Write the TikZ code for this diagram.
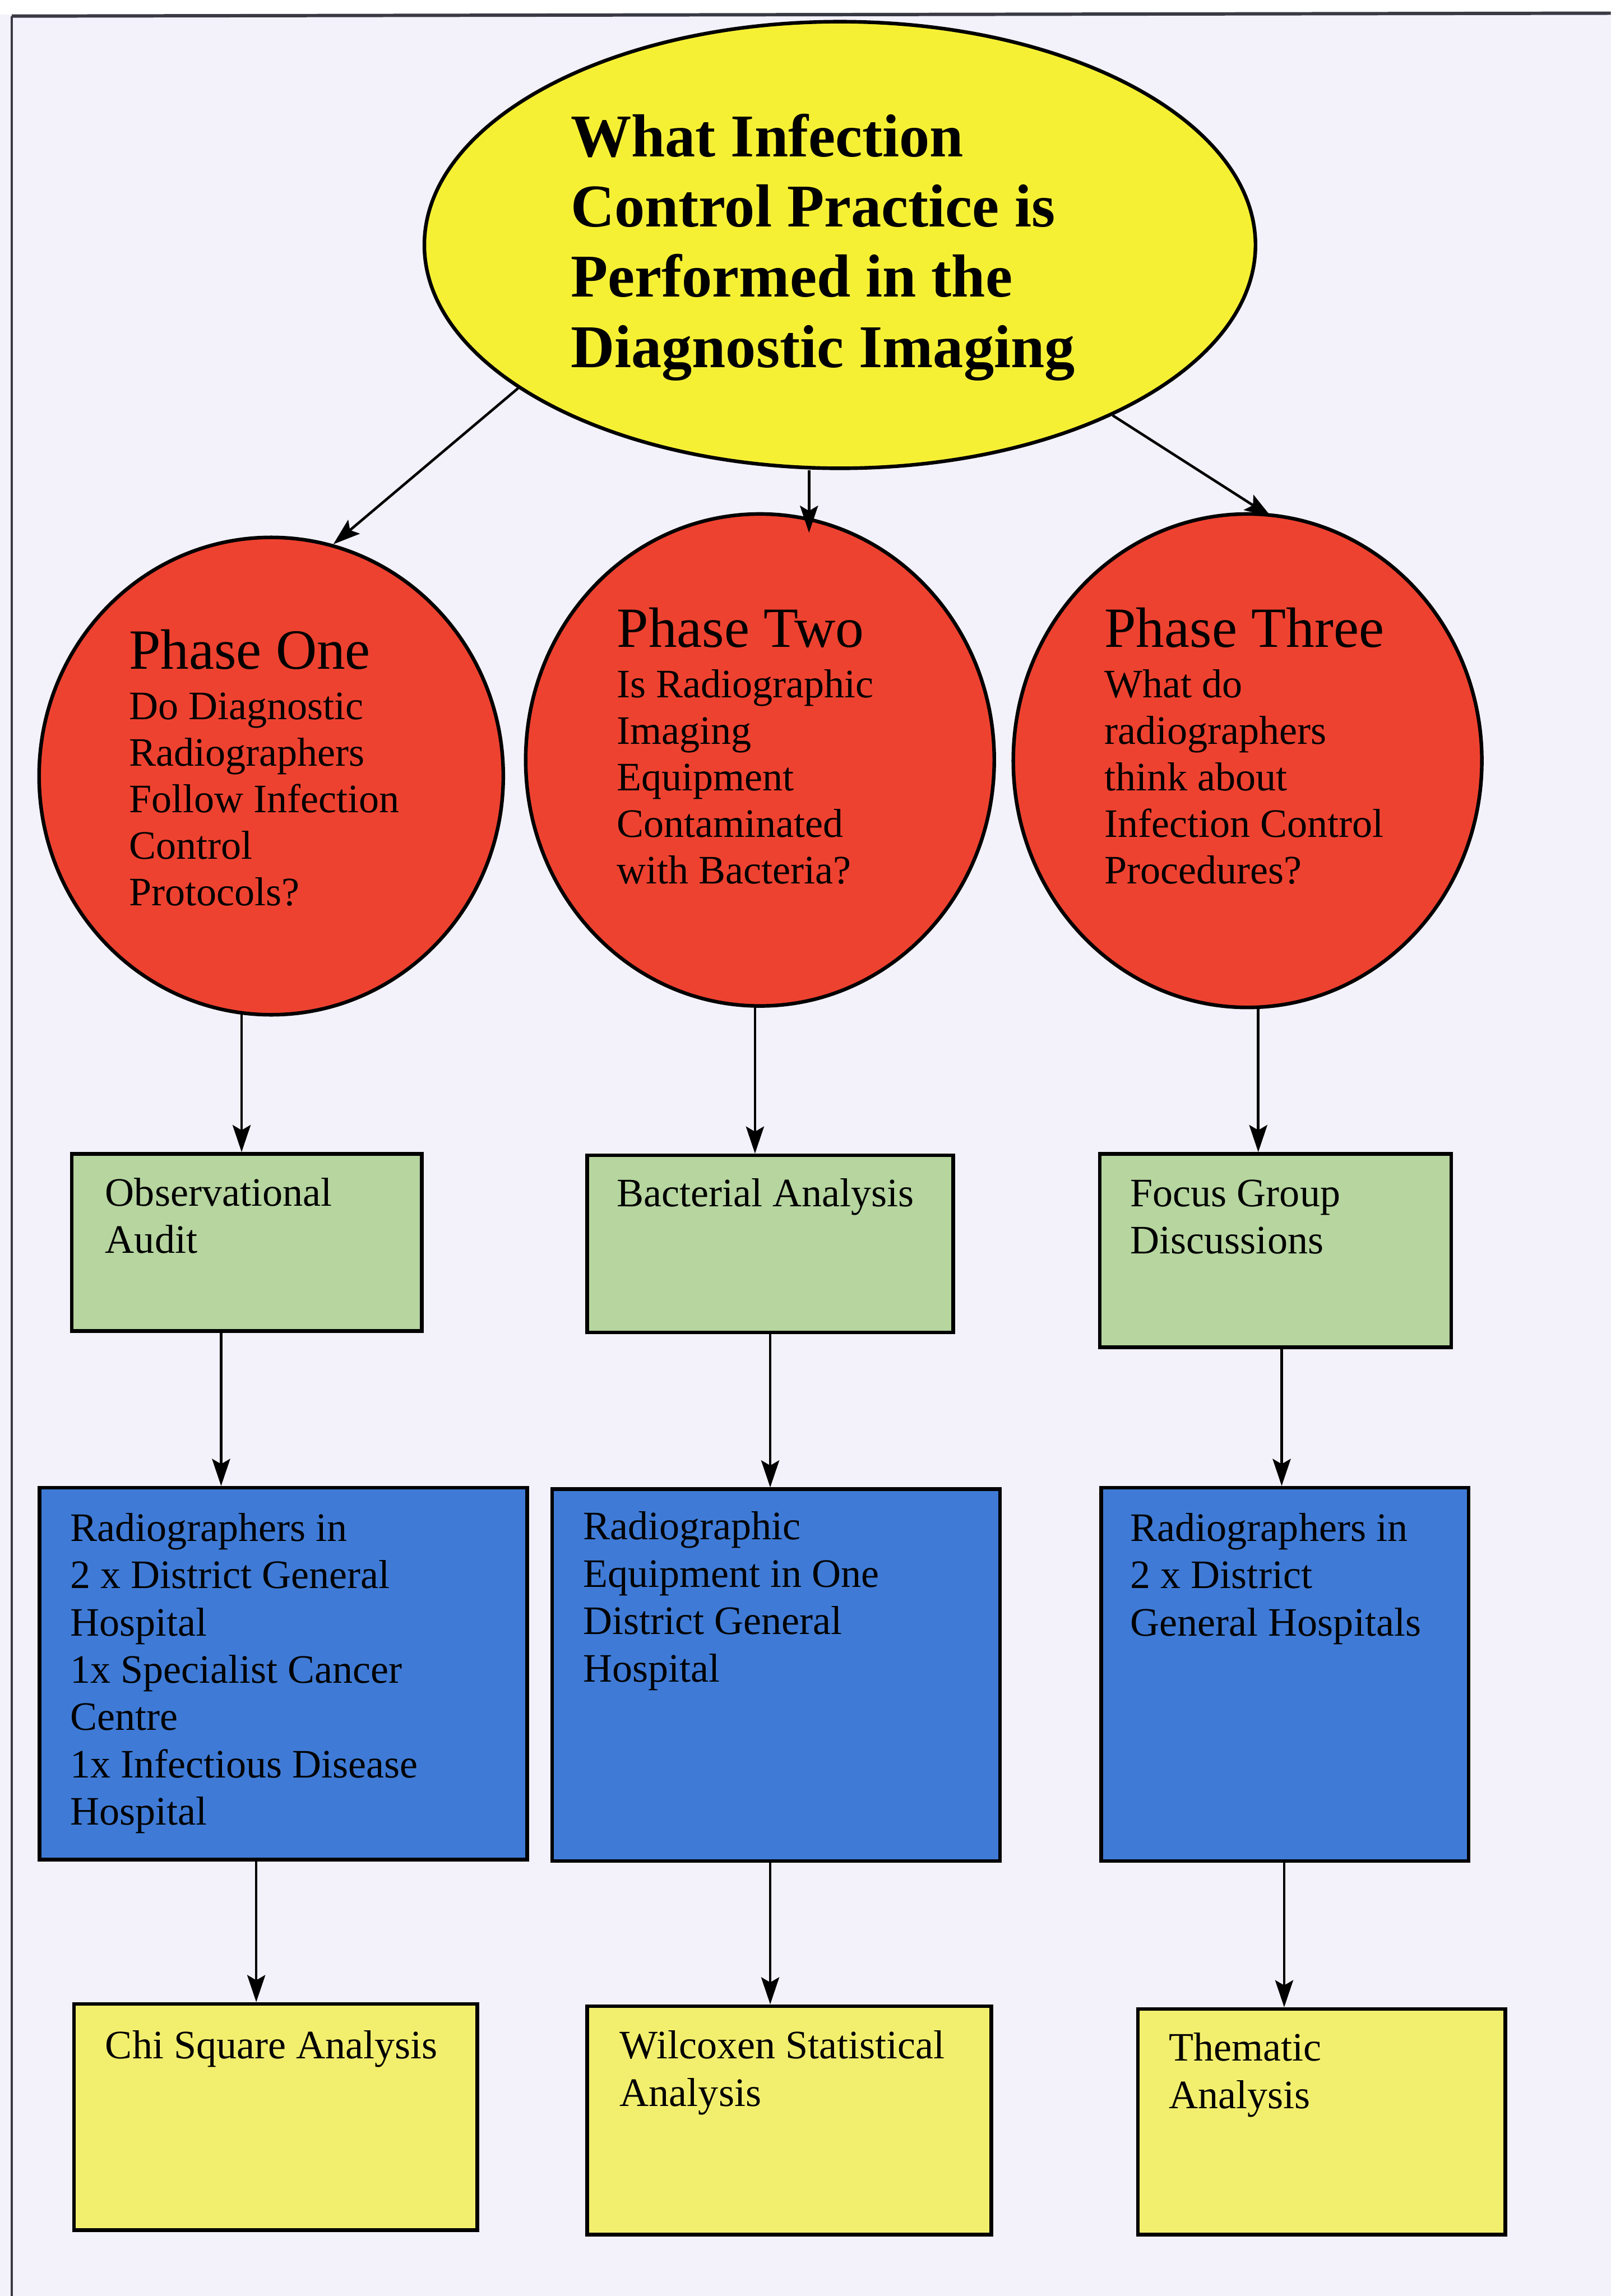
\documentclass[tikz,border=0pt]{standalone}
\usepackage{fontspec}
\setmainfont{Liberation Serif}
\usetikzlibrary{shapes.geometric,arrows.meta,calc}
\pgfdeclarelayer{page}
\pgfdeclarelayer{background}
\pgfsetlayers{page,background,main}

\newlength\upx
\setlength\upx{0.02cm}

\definecolor{pagebg}{HTML}{F3F1F9}
\definecolor{framecol}{HTML}{3A3A44}
\definecolor{qyellow}{HTML}{F6F035}
\definecolor{phasered}{HTML}{EE4230}
\definecolor{methgreen}{HTML}{B6D59F}
\definecolor{siteblue}{HTML}{3F7BD6}
\definecolor{resyellow}{HTML}{F3EF6E}

\newcommand{\titlesize}{\fontsize{23.6}{27.3}\selectfont\bfseries}
\newcommand{\phasesize}{\fontsize{22.1}{18.05}\selectfont}
\newcommand{\ellbody}{\fontsize{15.7}{18.05}\selectfont}
\newcommand{\boxbody}{\fontsize{15.7}{18.4}\selectfont}

\begin{document}
\begin{tikzpicture}[x=0.02cm,y=-0.02cm,
  question/.style={ellipse, draw=black, line width=1.4pt, fill=qyellow, inner sep=0pt},
  phase/.style={ellipse, draw=black, line width=1.4pt, fill=phasered, inner sep=0pt},
  stagebox/.style={rectangle, draw=black, line width=1.4pt, inner sep=0pt},
  label/.style={anchor=base west, inner sep=0pt, text=black},
  conn/.style={draw=black, line width=1pt, -{Stealth[length=10.5pt,width=7pt,inset=2pt]}}
]
\useasboundingbox (0,0) rectangle (1100,1568);

% page and its frame
\begin{pgfonlayer}{page}
\fill[pagebg] (0,0) rectangle (1100,1568);
\fill[white] (0,0) rectangle (1100,10);
\draw[framecol, line width=1.3pt] (8,11) -- (1100,9);
\draw[framecol, line width=1pt] (8,11) -- (8,1568);
\end{pgfonlayer}

% research question
\node[question, minimum width=567.6\upx, minimum height=305\upx] (q) at (573.6,167.3) {};
\node[label] (tq) at (389.4,106.9) {\parbox[t]{9cm}{\titlesize
  What Infection\\Control Practice is\\Performed in the\\Diagnostic Imaging}};

% the three phases
\node[phase, minimum width=317\upx, minimum height=326\upx] (p1) at (185.2,530) {};
\node[phase, minimum width=320\upx, minimum height=336\upx] (p2) at (519,519) {};
\node[phase, minimum width=320\upx, minimum height=337\upx] (p3) at (852,519.5) {};

\node[label] (tp1) at (87.7,457) {\parbox[t]{6cm}{\phasesize Phase One\\[1.6pt]\ellbody
  Do Diagnostic\\Radiographers\\Follow Infection\\Control\\Protocols?}};
\node[label] (tp2) at (421,442) {\parbox[t]{6cm}{\phasesize Phase Two\\[1.6pt]\ellbody
  Is Radiographic\\Imaging\\Equipment\\Contaminated\\with Bacteria?}};
\node[label] (tp3) at (754,442) {\parbox[t]{6cm}{\phasesize Phase Three\\[1.6pt]\ellbody
  What do\\radiographers\\think about\\Infection Control\\Procedures?}};

% methods
\node[stagebox, fill=methgreen, minimum width=239\upx, minimum height=121\upx] (g1) at (168.5,848.5) {};
\node[stagebox, fill=methgreen, minimum width=250\upx, minimum height=121\upx] (g2) at (526,849.5) {};
\node[stagebox, fill=methgreen, minimum width=240\upx, minimum height=132\upx] (g3) at (871,854) {};
\node[label] (tg1) at (71.6,823.5) {\parbox[t]{5cm}{\boxbody Observational\\Audit}};
\node[label] (tg2) at (421,824) {\parbox[t]{5cm}{\boxbody Bacterial Analysis}};
\node[label] (tg3) at (771.7,824) {\parbox[t]{5cm}{\boxbody Focus Group\\Discussions}};

% settings
\node[stagebox, fill=siteblue, minimum width=333\upx, minimum height=254\upx] (b1) at (193.5,1143) {};
\node[stagebox, fill=siteblue, minimum width=306\upx, minimum height=254\upx] (b2) at (530,1144) {};
\node[stagebox, fill=siteblue, minimum width=251\upx, minimum height=255\upx] (b3) at (877.5,1143.5) {};
\node[label] (tb1) at (47.7,1052.4) {\parbox[t]{6cm}{\boxbody Radiographers in\\2 x District General\\Hospital\\1x Specialist Cancer\\Centre\\1x Infectious Disease\\Hospital}};
\node[label] (tb2) at (397.8,1051.5) {\parbox[t]{6cm}{\boxbody Radiographic\\Equipment in One\\District General\\Hospital}};
\node[label] (tb3) at (771.7,1052.4) {\parbox[t]{6cm}{\boxbody Radiographers in\\2 x District\\General Hospitals}};

% analyses
\node[stagebox, fill=resyellow, minimum width=275.5\upx, minimum height=154.5\upx] (y1) at (188.25,1445.75) {};
\node[stagebox, fill=resyellow, minimum width=276\upx, minimum height=156\upx] (y2) at (539,1448) {};
\node[stagebox, fill=resyellow, minimum width=251\upx, minimum height=154\upx] (y3) at (902.5,1449) {};
\node[label] (ty1) at (71.6,1406) {\parbox[t]{6cm}{\boxbody Chi Square Analysis}};
\node[label] (ty2) at (423,1406) {\parbox[t]{6cm}{\boxbody Wilcoxen Statistical\\Analysis}};
\node[label] (ty3) at (798,1407.5) {\parbox[t]{6cm}{\boxbody Thematic\\Analysis}};

% columns of the vertical connectors
\coordinate (xm) at (552.5,0);
\coordinate (x1) at (165,0);
\coordinate (x2) at (515.6,0);
\coordinate (x3) at (859.3,0);
\coordinate (x4) at (151,0);
\coordinate (x5) at (526,0);
\coordinate (x6) at (875.3,0);
\coordinate (x7) at (175,0);
\coordinate (x8) at (526,0);
\coordinate (x9) at (877,0);

% question to phases
\draw[conn] (q.204) -- (p1.75);
\draw[conn, shorten >=-8pt] (q.south -| xm) -- (p2.north -| xm);
\draw[conn, shorten >=-3pt] (q.328) -- (p3.86);

% downward flow, started under the shapes
\begin{pgfonlayer}{background}
\draw[conn] (p1.center -| x1) -- (g1.north -| x1);
\draw[conn] (p2.center -| x2) -- (g2.north -| x2);
\draw[conn] (p3.center -| x3) -- (g3.north -| x3);
\draw[conn] (g1.center -| x4) -- (b1.north -| x4);
\draw[conn] (g2.center -| x5) -- (b2.north -| x5);
\draw[conn] (g3.center -| x6) -- (b3.north -| x6);
\draw[conn] (b1.center -| x7) -- (y1.north -| x7);
\draw[conn] (b2.center -| x8) -- (y2.north -| x8);
\draw[conn] (b3.center -| x9) -- (y3.north -| x9);
\end{pgfonlayer}
\end{tikzpicture}
\end{document}
